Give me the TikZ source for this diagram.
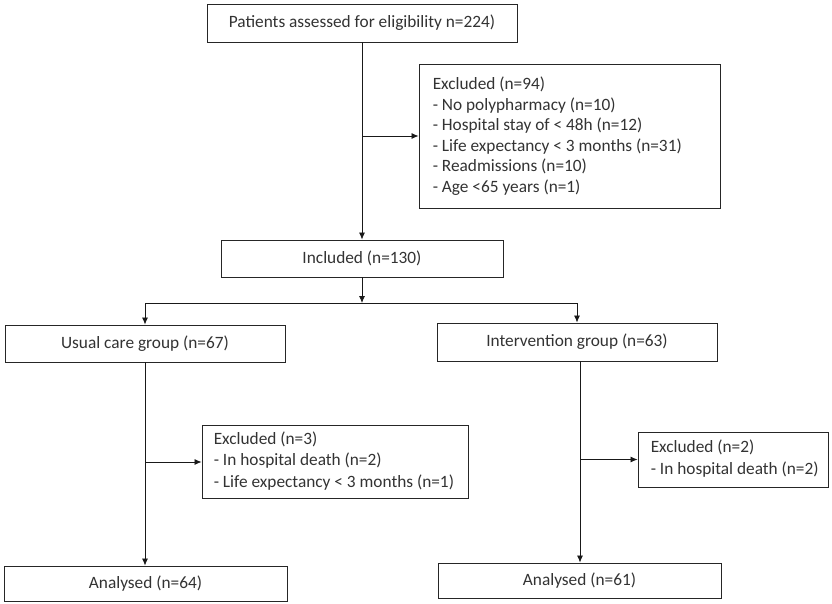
\documentclass[tikz,border=0pt]{standalone}
\usepackage{fontspec}
\setmainfont{Carlito}
\usetikzlibrary{arrows.meta}
\begin{document}
\begin{tikzpicture}[x=1pt,y=-1pt,
  txt/.style={font=\fontsize{17.3}{20.5}\selectfont, text=black!80},
  box/.style={draw=black!85, line width=0.9pt, rectangle, inner sep=0pt, txt},
  btext/.style={txt, align=left, inner sep=0pt, anchor=west},
  conn/.style={draw=black!90, line width=0.8pt},
  arr/.style={conn, -{Latex[length=7pt,width=6pt]}}]
\useasboundingbox[fill=white] (0,0) rectangle (832,604);
\node[box, minimum width=310pt, minimum height=38pt] (top) at (362,23) {Patients assessed for eligibility n=224)};
\node[box, minimum width=301pt, minimum height=144pt] (ex1) at (569.5,136) {};
\node[btext] (ex1t) at ([xshift=14pt]ex1.west) {Excluded (n=94)\\- No polypharmacy (n=10)\\- Hospital stay of < 48h (n=12)\\- Life expectancy < 3 months (n=31)\\- Readmissions (n=10)\\- Age <65 years (n=1)};
\node[box, minimum width=282pt, minimum height=37pt] (incl) at (362,258.5) {Included (n=130)};
\node[box, minimum width=280pt, minimum height=37pt] (usual) at (145,343.5) {Usual care group (n=67)};
\node[box, minimum width=280pt, minimum height=38pt] (interv) at (577,342) {Intervention group (n=63)};
\node[box, minimum width=266pt, minimum height=73pt] (ex3) at (335,462) {};
\node[btext, font=\fontsize{17.3}{21.5}\selectfont] (ex3t) at ([xshift=12pt,yshift=1pt]ex3.west) {Excluded (n=3)\\- In hospital death (n=2)\\- Life expectancy < 3 months (n=1)};
\node[box, minimum width=190pt, minimum height=55pt] (ex2) at (733,459.5) {};
\node[btext, font=\fontsize{17.3}{21.5}\selectfont] (ex2t) at ([xshift=13pt,yshift=1pt]ex2.west) {Excluded (n=2)\\- In hospital death (n=2)};
\node[box, minimum width=283pt, minimum height=35pt] (an1) at (145.5,583.5) {Analysed (n=64)};
\node[box, minimum width=283pt, minimum height=35pt] (an2) at (579.5,580.5) {Analysed (n=61)};
\coordinate (b1) at (362,136);
\coordinate (split) at (362,303);
\coordinate (sl) at (145,303);
\coordinate (sr) at (577,303);
\coordinate (b3) at (145,462);
\coordinate (b2) at (580,459.5);
\draw[arr] (top.south) -- (incl.north);
\draw[arr] (b1) -- (ex1.west);
\draw[arr] (incl.south) -- (split);
\draw[conn] (sl) -- (sr);
\draw[arr] (sl) -- (usual.north -| sl);
\draw[arr] (sr) -- (interv.north -| sr);
\draw[arr] (usual.south -| b3) -- (an1.north -| b3);
\draw[arr] (b3) -- (ex3.west);
\draw[arr] (interv.south -| b2) -- (an2.north -| b2);
\draw[arr] (b2) -- (ex2.west);
\end{tikzpicture}
\end{document}
